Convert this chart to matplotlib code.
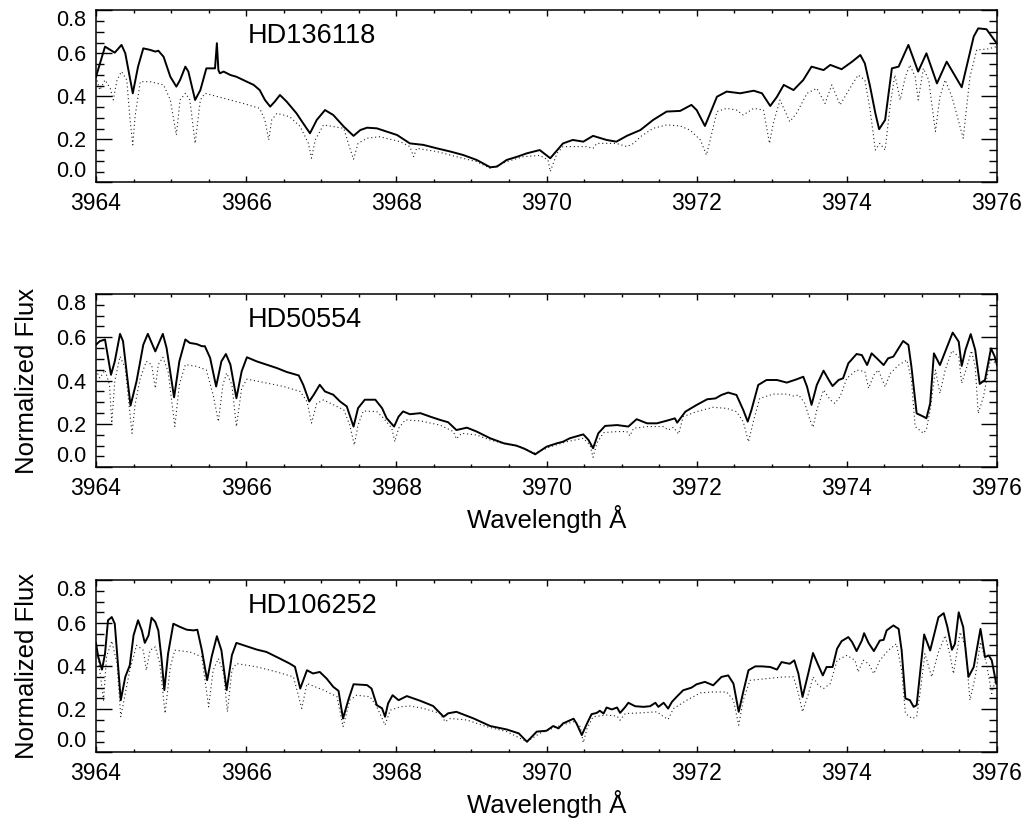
import matplotlib
matplotlib.use("Agg")
import matplotlib.pyplot as plt
import numpy as np

plt.rcParams['font.family'] = ['Liberation Sans', 'DejaVu Sans']

# ---------------- data (wavelength in Angstrom, normalized flux) ----------------
star_names = ["HD136118", "HD50554", "HD106252"]

hd136118_obs = [
    (3964.00, 0.491), (3964.12, 0.631), (3964.19, 0.616), (3964.25, 0.603), (3964.34, 0.639),
    (3964.39, 0.600), (3964.49, 0.414), (3964.56, 0.538), (3964.63, 0.623), (3964.72, 0.616),
    (3964.79, 0.608), (3964.83, 0.612), (3964.90, 0.584), (3964.99, 0.491), (3965.07, 0.445),
    (3965.12, 0.476), (3965.19, 0.538), (3965.23, 0.515), (3965.32, 0.383), (3965.39, 0.429),
    (3965.47, 0.530), (3965.585, 0.530), (3965.61, 0.647), (3965.63, 0.522), (3965.65, 0.507),
    (3965.70, 0.515), (3965.79, 0.499), (3965.87, 0.491), (3965.96, 0.476), (3966.10, 0.453),
    (3966.18, 0.429), (3966.25, 0.383), (3966.32, 0.352), (3966.38, 0.375), (3966.45, 0.406),
    (3966.54, 0.375), (3966.67, 0.321), (3966.76, 0.274), (3966.85, 0.228), (3966.94, 0.290),
    (3967.05, 0.336), (3967.16, 0.313), (3967.30, 0.259), (3967.43, 0.216), (3967.52, 0.243),
    (3967.61, 0.254), (3967.74, 0.251), (3967.87, 0.236), (3968.01, 0.220), (3968.18, 0.181),
    (3968.36, 0.174), (3968.54, 0.158), (3968.72, 0.143), (3968.89, 0.127), (3969.07, 0.104),
    (3969.25, 0.070), (3969.34, 0.073), (3969.47, 0.104), (3969.61, 0.119), (3969.74, 0.135),
    (3969.91, 0.150), (3970.05, 0.112), (3970.22, 0.181), (3970.35, 0.197), (3970.49, 0.189),
    (3970.62, 0.216), (3970.80, 0.197), (3970.93, 0.189), (3971.07, 0.216), (3971.25, 0.243),
    (3971.42, 0.290), (3971.60, 0.329), (3971.78, 0.332), (3971.93, 0.360), (3972.00, 0.336),
    (3972.11, 0.262), (3972.18, 0.321), (3972.27, 0.398), (3972.40, 0.422), (3972.58, 0.414),
    (3972.76, 0.426), (3972.87, 0.414), (3972.98, 0.355), (3973.07, 0.398), (3973.16, 0.453),
    (3973.29, 0.429), (3973.42, 0.476), (3973.53, 0.538), (3973.69, 0.522), (3973.78, 0.546),
    (3973.93, 0.526), (3974.07, 0.561), (3974.18, 0.592), (3974.24, 0.553), (3974.31, 0.445),
    (3974.38, 0.321), (3974.43, 0.247), (3974.51, 0.290), (3974.60, 0.530), (3974.69, 0.538),
    (3974.82, 0.639), (3974.95, 0.515), (3975.06, 0.600), (3975.20, 0.460), (3975.33, 0.561),
    (3975.53, 0.442), (3975.69, 0.678), (3975.75, 0.716), (3975.86, 0.712), (3975.98, 0.654),
    (3976.00, 0.647),
]
hd136118_model = [
    (3964.00, 0.491), (3964.05, 0.429), (3964.12, 0.476), (3964.19, 0.437), (3964.23, 0.383),
    (3964.28, 0.476), (3964.34, 0.515), (3964.41, 0.476), (3964.45, 0.305), (3964.49, 0.174),
    (3964.52, 0.305), (3964.59, 0.468), (3964.72, 0.468), (3964.90, 0.453), (3964.99, 0.383),
    (3965.07, 0.220), (3965.12, 0.383), (3965.19, 0.414), (3965.25, 0.383), (3965.32, 0.181),
    (3965.39, 0.383), (3965.45, 0.414), (3965.70, 0.391), (3965.96, 0.367), (3966.18, 0.344),
    (3966.25, 0.290), (3966.30, 0.197), (3966.34, 0.290), (3966.41, 0.321), (3966.58, 0.305),
    (3966.72, 0.259), (3966.83, 0.181), (3966.87, 0.112), (3966.92, 0.197), (3967.03, 0.267),
    (3967.30, 0.251), (3967.36, 0.181), (3967.43, 0.107), (3967.49, 0.181), (3967.61, 0.205),
    (3967.78, 0.212), (3968.05, 0.189), (3968.18, 0.166), (3968.23, 0.119), (3968.27, 0.158),
    (3968.54, 0.143), (3968.80, 0.119), (3969.07, 0.096), (3969.25, 0.065), (3969.47, 0.096),
    (3969.69, 0.119), (3969.91, 0.125), (3970.02, 0.104), (3970.05, 0.050), (3970.14, 0.135),
    (3970.22, 0.166), (3970.53, 0.166), (3970.62, 0.158), (3970.67, 0.181), (3970.93, 0.181),
    (3971.07, 0.166), (3971.16, 0.181), (3971.25, 0.212), (3971.42, 0.251), (3971.60, 0.267),
    (3971.78, 0.262), (3971.91, 0.243), (3972.05, 0.197), (3972.13, 0.127), (3972.18, 0.197),
    (3972.27, 0.329), (3972.40, 0.344), (3972.53, 0.336), (3972.62, 0.313), (3972.76, 0.344),
    (3972.89, 0.336), (3972.97, 0.181), (3973.02, 0.274), (3973.11, 0.383), (3973.20, 0.313),
    (3973.24, 0.282), (3973.33, 0.321), (3973.47, 0.414), (3973.60, 0.437), (3973.71, 0.367),
    (3973.80, 0.453), (3973.91, 0.360), (3974.04, 0.437), (3974.15, 0.499), (3974.24, 0.476),
    (3974.31, 0.336), (3974.38, 0.150), (3974.44, 0.181), (3974.51, 0.150), (3974.58, 0.367),
    (3974.64, 0.499), (3974.71, 0.383), (3974.78, 0.491), (3974.84, 0.546), (3974.91, 0.491),
    (3974.95, 0.383), (3975.02, 0.530), (3975.09, 0.476), (3975.18, 0.236), (3975.24, 0.398),
    (3975.31, 0.476), (3975.40, 0.398), (3975.46, 0.321), (3975.55, 0.205), (3975.64, 0.491),
    (3975.73, 0.616), (3975.86, 0.619), (3976.00, 0.631),
]

hd50554_obs = [
    (3964.00, 0.566), (3964.05, 0.582), (3964.12, 0.590), (3964.20, 0.427), (3964.25, 0.489),
    (3964.32, 0.616), (3964.36, 0.582), (3964.46, 0.285), (3964.54, 0.397), (3964.63, 0.566),
    (3964.69, 0.616), (3964.79, 0.535), (3964.89, 0.616), (3964.94, 0.551), (3965.04, 0.323),
    (3965.11, 0.489), (3965.19, 0.590), (3965.25, 0.574), (3965.34, 0.569), (3965.41, 0.559),
    (3965.45, 0.559), (3965.52, 0.505), (3965.60, 0.373), (3965.67, 0.489), (3965.73, 0.523),
    (3965.79, 0.474), (3965.87, 0.319), (3965.94, 0.443), (3966.01, 0.508), (3966.14, 0.489),
    (3966.27, 0.474), (3966.41, 0.458), (3966.54, 0.440), (3966.70, 0.424), (3966.76, 0.381),
    (3966.84, 0.304), (3966.90, 0.335), (3966.98, 0.381), (3967.05, 0.350), (3967.16, 0.335),
    (3967.25, 0.304), (3967.34, 0.281), (3967.43, 0.188), (3967.49, 0.273), (3967.58, 0.312),
    (3967.72, 0.312), (3967.81, 0.273), (3967.87, 0.227), (3967.97, 0.188), (3968.03, 0.234),
    (3968.09, 0.258), (3968.18, 0.245), (3968.32, 0.250), (3968.45, 0.234), (3968.58, 0.219),
    (3968.69, 0.208), (3968.80, 0.172), (3968.94, 0.183), (3969.07, 0.165), (3969.25, 0.134),
    (3969.43, 0.111), (3969.60, 0.100), (3969.71, 0.085), (3969.85, 0.060), (3970.00, 0.095),
    (3970.14, 0.111), (3970.22, 0.118), (3970.31, 0.134), (3970.49, 0.152), (3970.56, 0.126),
    (3970.62, 0.088), (3970.69, 0.157), (3970.78, 0.191), (3970.94, 0.195), (3971.09, 0.188),
    (3971.20, 0.222), (3971.34, 0.203), (3971.47, 0.203), (3971.60, 0.215), (3971.71, 0.226),
    (3971.74, 0.206), (3971.85, 0.257), (3972.00, 0.288), (3972.14, 0.314), (3972.25, 0.318),
    (3972.33, 0.334), (3972.42, 0.345), (3972.53, 0.334), (3972.62, 0.265), (3972.68, 0.211),
    (3972.73, 0.265), (3972.82, 0.380), (3972.93, 0.403), (3973.07, 0.403), (3973.20, 0.391),
    (3973.33, 0.406), (3973.42, 0.418), (3973.47, 0.372), (3973.53, 0.288), (3973.60, 0.380),
    (3973.69, 0.446), (3973.76, 0.403), (3973.81, 0.375), (3973.89, 0.403), (3973.95, 0.411),
    (3974.02, 0.480), (3974.13, 0.523), (3974.20, 0.518), (3974.27, 0.472), (3974.33, 0.526),
    (3974.40, 0.503), (3974.49, 0.472), (3974.55, 0.503), (3974.62, 0.511), (3974.75, 0.583),
    (3974.82, 0.565), (3974.86, 0.465), (3974.93, 0.249), (3975.02, 0.234), (3975.06, 0.226),
    (3975.11, 0.295), (3975.16, 0.526), (3975.24, 0.472), (3975.31, 0.534), (3975.41, 0.622),
    (3975.49, 0.580), (3975.53, 0.468), (3975.58, 0.542), (3975.65, 0.615), (3975.71, 0.542),
    (3975.77, 0.385), (3975.84, 0.403), (3975.92, 0.549), (3975.97, 0.511), (3976.00, 0.472),
]
hd50554_model = [
    (3964.00, 0.449), (3964.05, 0.412), (3964.12, 0.449), (3964.18, 0.381), (3964.21, 0.204),
    (3964.25, 0.397), (3964.32, 0.512), (3964.39, 0.458), (3964.44, 0.288), (3964.48, 0.157),
    (3964.52, 0.288), (3964.59, 0.412), (3964.67, 0.489), (3964.74, 0.474), (3964.79, 0.365),
    (3964.83, 0.474), (3964.89, 0.508), (3964.96, 0.443), (3965.05, 0.188), (3965.11, 0.381),
    (3965.19, 0.474), (3965.34, 0.466), (3965.47, 0.449), (3965.56, 0.335), (3965.63, 0.211),
    (3965.69, 0.381), (3965.74, 0.435), (3965.81, 0.381), (3965.87, 0.188), (3965.94, 0.365),
    (3966.01, 0.407), (3966.23, 0.392), (3966.50, 0.373), (3966.72, 0.350), (3966.81, 0.304),
    (3966.87, 0.204), (3966.94, 0.295), (3967.03, 0.311), (3967.30, 0.265), (3967.38, 0.195),
    (3967.44, 0.103), (3967.49, 0.195), (3967.56, 0.260), (3967.74, 0.257), (3967.83, 0.227),
    (3967.94, 0.180), (3967.98, 0.118), (3968.03, 0.180), (3968.12, 0.219), (3968.32, 0.214),
    (3968.58, 0.195), (3968.76, 0.165), (3968.80, 0.131), (3968.87, 0.157), (3969.07, 0.149),
    (3969.25, 0.126), (3969.47, 0.106), (3969.65, 0.095), (3969.85, 0.065), (3970.05, 0.095),
    (3970.27, 0.118), (3970.49, 0.134), (3970.58, 0.103), (3970.62, 0.046), (3970.67, 0.111),
    (3970.76, 0.160), (3970.94, 0.165), (3971.07, 0.165), (3971.11, 0.145), (3971.16, 0.180),
    (3971.34, 0.188), (3971.56, 0.188), (3971.62, 0.172), (3971.69, 0.185), (3971.76, 0.154),
    (3971.82, 0.234), (3972.00, 0.257), (3972.22, 0.277), (3972.40, 0.272), (3972.53, 0.257),
    (3972.62, 0.211), (3972.69, 0.118), (3972.76, 0.218), (3972.84, 0.318), (3973.02, 0.338),
    (3973.20, 0.338), (3973.29, 0.329), (3973.36, 0.334), (3973.44, 0.295), (3973.51, 0.218),
    (3973.55, 0.185), (3973.60, 0.265), (3973.69, 0.357), (3973.78, 0.311), (3973.84, 0.295),
    (3973.91, 0.326), (3974.00, 0.411), (3974.13, 0.449), (3974.24, 0.442), (3974.29, 0.365),
    (3974.36, 0.426), (3974.42, 0.449), (3974.51, 0.372), (3974.58, 0.434), (3974.69, 0.472),
    (3974.80, 0.495), (3974.86, 0.403), (3974.91, 0.188), (3975.02, 0.157), (3975.06, 0.175),
    (3975.11, 0.265), (3975.18, 0.449), (3975.24, 0.342), (3975.31, 0.449), (3975.40, 0.538),
    (3975.49, 0.511), (3975.53, 0.388), (3975.60, 0.465), (3975.66, 0.538), (3975.71, 0.465),
    (3975.75, 0.249), (3975.82, 0.326), (3975.91, 0.495), (3976.00, 0.480),
]

hd106252_obs = [
    (3964.00, 0.505), (3964.03, 0.443), (3964.08, 0.384), (3964.12, 0.458), (3964.16, 0.613),
    (3964.21, 0.628), (3964.25, 0.597), (3964.33, 0.242), (3964.39, 0.350), (3964.45, 0.404),
    (3964.50, 0.543), (3964.56, 0.613), (3964.61, 0.566), (3964.65, 0.508), (3964.70, 0.543),
    (3964.74, 0.625), (3964.79, 0.605), (3964.83, 0.566), (3964.87, 0.443), (3964.91, 0.289),
    (3964.96, 0.458), (3965.03, 0.597), (3965.12, 0.582), (3965.21, 0.569), (3965.30, 0.566),
    (3965.35, 0.569), (3965.41, 0.474), (3965.48, 0.335), (3965.54, 0.443), (3965.61, 0.539),
    (3965.67, 0.474), (3965.74, 0.289), (3965.81, 0.451), (3965.87, 0.508), (3966.01, 0.492),
    (3966.14, 0.477), (3966.27, 0.466), (3966.45, 0.435), (3966.58, 0.412), (3966.65, 0.397),
    (3966.72, 0.296), (3966.81, 0.381), (3966.89, 0.366), (3966.98, 0.373), (3967.07, 0.343),
    (3967.16, 0.304), (3967.23, 0.285), (3967.29, 0.157), (3967.36, 0.242), (3967.43, 0.316),
    (3967.61, 0.312), (3967.67, 0.296), (3967.74, 0.219), (3967.81, 0.204), (3967.85, 0.165),
    (3967.89, 0.227), (3967.95, 0.265), (3968.03, 0.242), (3968.14, 0.261), (3968.32, 0.239),
    (3968.49, 0.215), (3968.63, 0.165), (3968.69, 0.181), (3968.80, 0.188), (3969.03, 0.157),
    (3969.25, 0.122), (3969.47, 0.106), (3969.63, 0.088), (3969.74, 0.049), (3969.87, 0.096),
    (3970.00, 0.100), (3970.09, 0.122), (3970.16, 0.111), (3970.22, 0.134), (3970.36, 0.156),
    (3970.40, 0.134), (3970.47, 0.080), (3970.54, 0.134), (3970.60, 0.177), (3970.67, 0.183),
    (3970.71, 0.193), (3970.76, 0.180), (3970.80, 0.208), (3970.87, 0.199), (3970.94, 0.208),
    (3970.98, 0.183), (3971.05, 0.211), (3971.09, 0.230), (3971.18, 0.214), (3971.29, 0.211),
    (3971.38, 0.214), (3971.45, 0.230), (3971.49, 0.211), (3971.56, 0.230), (3971.62, 0.203),
    (3971.67, 0.234), (3971.74, 0.260), (3971.82, 0.288), (3971.93, 0.300), (3972.00, 0.316),
    (3972.11, 0.327), (3972.22, 0.311), (3972.33, 0.350), (3972.42, 0.357), (3972.49, 0.319),
    (3972.56, 0.188), (3972.62, 0.280), (3972.69, 0.381), (3972.78, 0.399), (3972.87, 0.399),
    (3972.98, 0.396), (3973.07, 0.384), (3973.13, 0.419), (3973.24, 0.411), (3973.30, 0.427),
    (3973.355, 0.365), (3973.41, 0.257), (3973.48, 0.357), (3973.55, 0.461), (3973.62, 0.404),
    (3973.68, 0.357), (3973.73, 0.396), (3973.81, 0.396), (3973.87, 0.481), (3973.93, 0.516),
    (3974.02, 0.535), (3974.07, 0.512), (3974.13, 0.470), (3974.20, 0.519), (3974.23, 0.553),
    (3974.29, 0.507), (3974.36, 0.470), (3974.44, 0.519), (3974.49, 0.522), (3974.53, 0.566),
    (3974.62, 0.589), (3974.69, 0.573), (3974.73, 0.473), (3974.78, 0.250), (3974.84, 0.242),
    (3974.89, 0.211), (3974.93, 0.219), (3974.98, 0.381), (3975.03, 0.547), (3975.11, 0.473),
    (3975.22, 0.627), (3975.29, 0.646), (3975.34, 0.581), (3975.40, 0.476), (3975.44, 0.504),
    (3975.49, 0.650), (3975.55, 0.581), (3975.62, 0.350), (3975.69, 0.396), (3975.78, 0.573),
    (3975.84, 0.442), (3975.89, 0.450), (3975.93, 0.427), (3975.99, 0.319),
]
hd106252_model = [
    (3964.00, 0.512), (3964.05, 0.381), (3964.10, 0.242), (3964.14, 0.443), (3964.21, 0.517),
    (3964.28, 0.412), (3964.33, 0.165), (3964.39, 0.273), (3964.45, 0.381), (3964.54, 0.497),
    (3964.63, 0.474), (3964.67, 0.381), (3964.72, 0.474), (3964.79, 0.489), (3964.85, 0.412),
    (3964.92, 0.181), (3964.99, 0.397), (3965.05, 0.474), (3965.25, 0.466), (3965.41, 0.443),
    (3965.50, 0.211), (3965.56, 0.381), (3965.63, 0.435), (3965.70, 0.366), (3965.75, 0.188),
    (3965.81, 0.381), (3965.87, 0.412), (3966.14, 0.397), (3966.41, 0.373), (3966.63, 0.350),
    (3966.74, 0.204), (3966.81, 0.319), (3967.03, 0.289), (3967.21, 0.258), (3967.29, 0.119),
    (3967.38, 0.242), (3967.47, 0.265), (3967.65, 0.258), (3967.74, 0.211), (3967.85, 0.127),
    (3967.92, 0.196), (3968.05, 0.211), (3968.18, 0.215), (3968.36, 0.204), (3968.58, 0.181),
    (3968.65, 0.142), (3968.72, 0.157), (3968.94, 0.150), (3969.20, 0.119), (3969.47, 0.096),
    (3969.74, 0.049), (3969.91, 0.088), (3970.14, 0.119), (3970.36, 0.142), (3970.45, 0.119),
    (3970.49, 0.045), (3970.54, 0.111), (3970.62, 0.165), (3970.80, 0.173), (3970.94, 0.168),
    (3970.98, 0.149), (3971.05, 0.180), (3971.25, 0.183), (3971.47, 0.188), (3971.56, 0.165),
    (3971.62, 0.153), (3971.69, 0.203), (3971.87, 0.242), (3972.05, 0.276), (3972.22, 0.280),
    (3972.40, 0.280), (3972.49, 0.242), (3972.56, 0.126), (3972.62, 0.242), (3972.71, 0.334),
    (3972.93, 0.342), (3973.16, 0.350), (3973.29, 0.350), (3973.355, 0.273), (3973.41, 0.188),
    (3973.49, 0.273), (3973.55, 0.350), (3973.62, 0.311), (3973.69, 0.296), (3973.78, 0.319),
    (3973.87, 0.427), (3974.00, 0.450), (3974.11, 0.427), (3974.15, 0.373), (3974.22, 0.427),
    (3974.29, 0.411), (3974.36, 0.365), (3974.44, 0.427), (3974.55, 0.473), (3974.66, 0.504),
    (3974.73, 0.381), (3974.78, 0.180), (3974.87, 0.157), (3974.93, 0.165), (3974.98, 0.288),
    (3975.04, 0.458), (3975.13, 0.350), (3975.22, 0.465), (3975.31, 0.542), (3975.38, 0.442),
    (3975.42, 0.365), (3975.51, 0.558), (3975.58, 0.488), (3975.64, 0.242), (3975.71, 0.350),
    (3975.78, 0.512), (3975.86, 0.411), (3975.93, 0.273), (3975.99, 0.350),
]

observed = [hd136118_obs, hd50554_obs, hd106252_obs]
models = [hd136118_model, hd50554_model, hd106252_model]

x_ticks = [3964, 3966, 3968, 3970, 3972, 3974, 3976]
y_ticks = [0.0, 0.2, 0.4, 0.6, 0.8]

# ---------------- figure ----------------
W, H = 1029, 821
fig = plt.figure(figsize=(W / 100, H / 100), dpi=100)
fig.patch.set_facecolor('white')

panel_px = [(96, 10.3, 997, 182.3), (96, 294, 997, 467.3), (96, 580, 997, 752.3)]
axes = []
for i, (l, t, r, b) in enumerate(panel_px):
    ax = fig.add_axes([l / W, 1 - b / H, (r - l) / W, (b - t) / H])
    axes.append(ax)
    mw, mf = np.array(models[i]).T
    ow, of = np.array(observed[i]).T
    ax.plot(mw, mf, color='#222222', lw=0.8, linestyle=(0, (1, 2.5)))
    ax.plot(ow, of, color='black', lw=1.4, solid_joinstyle='round')
    ax.set_xlim(3964, 3976)
    ax.set_ylim(0.0, 0.8)
    ax.set_xticks(x_ticks)
    ax.set_xticklabels([str(v) for v in x_ticks])
    ax.set_xticks(np.arange(3964, 3976.01, 0.5), minor=True)
    ax.set_yticks(y_ticks)
    ax.set_yticklabels(['%.1f' % v for v in y_ticks])
    ax.set_yticks(np.arange(0.05, 0.8, 0.05), minor=True)
    ax.tick_params(which='both', direction='in', top=True, right=True, color='black')
    ax.tick_params(axis='y', which='major', length=11.5, width=1.0, pad=7, labelsize=15.5)
    ax.tick_params(axis='y', which='minor', length=5.8, width=1.0)
    ax.tick_params(axis='x', which='major', length=4.0, width=1.0, pad=7, labelsize=16.5)
    ax.tick_params(axis='x', which='minor', length=2.5, width=1.0)
    for sp in ax.spines.values():
        sp.set_linewidth(1.1)
    ax.text(3966.02, 0.646, star_names[i], fontsize=19.5, ha='left', va='baseline')
    if i > 0:
        ax.set_ylabel('Normalized Flux', fontsize=18.5)
        ax.yaxis.set_label_coords(-0.063, 0.5)
        ax.set_xlabel('Wavelength Å', fontsize=18.5)
        ax.xaxis.set_label_coords(0.5, -0.2175)

fig.canvas.draw()
for ax in axes:
    labs = ax.get_yticklabels()
    labs[0].set_va('bottom')
    labs[-1].set_va('top')

fig.savefig('out.png', dpi=100, facecolor='white')
